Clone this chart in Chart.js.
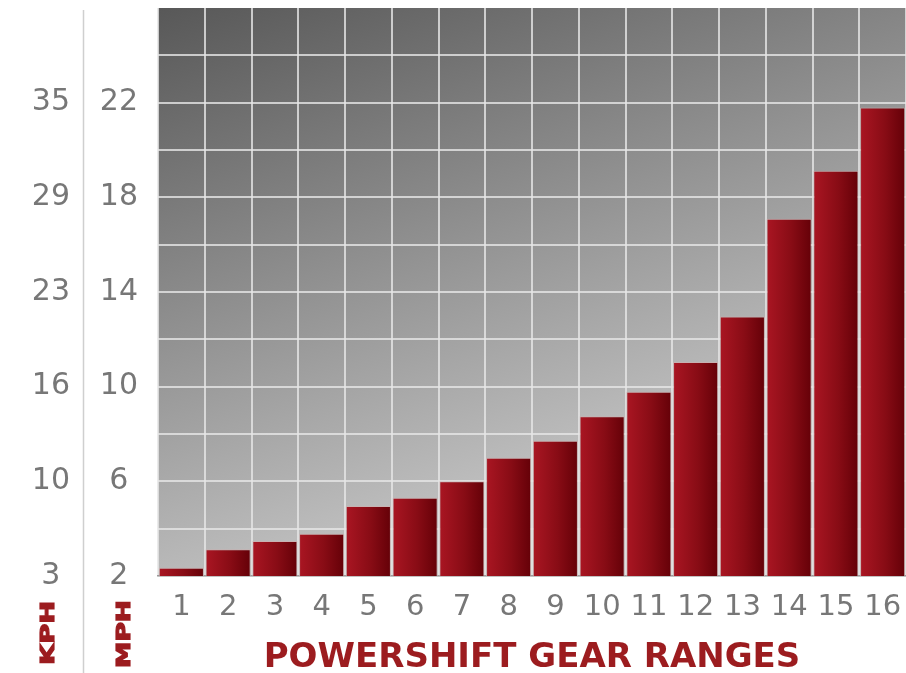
<!DOCTYPE html>
<html>
<head>
<meta charset="utf-8">
<script src="https://cdn.jsdelivr.net/npm/chart.js@4"></script>
<style>
  html, body { margin: 0; padding: 0; background: #fff; }
  #wrap { width: 906px; height: 673px; }
</style>
</head>
<body>
<div id="wrap"><canvas id="gearChart"></canvas></div>
<script>
// Gear numbers along the bottom
const gears = ['1', '2', '3', '4', '5', '6', '7', '8', '9', '10', '11', '12', '13', '14', '15', '16'];
// Top speed per gear (mph)
const mphValues = [2.35, 3.13, 3.48, 3.79, 4.96, 5.31, 6.0, 7.0, 7.72, 8.75, 9.79, 11.04, 12.96, 17.1, 19.12, 21.8];
// Labelled ticks: mph axis and the kph axis beside it
const mphTicks = [2, 6, 10, 14, 18, 22];
const kphTicks = [3, 10, 16, 23, 29, 35];
const axisMin = 2;
const axisMax = 26;
const gridStep = 2;

const RED = '#9c1c1f';
const TICK_GREY = '#777777';
const GRID = 'rgba(230,230,230,0.8)';

// label helper: show only the labelled ticks, keep grid lines on the rest
function tickLabel(list) {
  return function (value) {
    const i = mphTicks.indexOf(value);
    if (i >= 0) return String(list[i]);
    return value >= axisMax ? null : '';
  };
}

// fix an axis box size and drop the extra room Chart.js keeps for edge labels
function fixBox(size) {
  return function (scale) {
    if (scale.isHorizontal()) {
      scale.height = size;
      scale.paddingLeft = 0;
      scale.paddingRight = 0;
    } else {
      scale.width = size;
      scale.paddingTop = 0;
      scale.paddingBottom = 0;
    }
  };
}

// gray gradient behind the plot
const plotBackground = {
  id: 'plotBackground',
  beforeDraw(chart) {
    const { ctx, chartArea: a } = chart;
    const len = 620;
    const g = ctx.createLinearGradient(a.left, a.top, a.left + 0.33 * len, a.top + 0.94 * len);
    g.addColorStop(0, '#585858');
    g.addColorStop(1, '#c8c8c8');
    ctx.save();
    ctx.fillStyle = g;
    ctx.fillRect(a.left, a.top, a.right - a.left, a.bottom - a.top);
    ctx.restore();
  }
};

// divider line and the KPH / MPH unit labels under the axes
const unitLabels = {
  id: 'unitLabels',
  afterDraw(chart) {
    const ctx = chart.ctx;
    ctx.save();
    ctx.strokeStyle = '#cfcfcf';
    ctx.lineWidth = 1.5;
    ctx.beginPath();
    ctx.moveTo(83.5, 10);
    ctx.lineTo(83.5, 673);
    ctx.stroke();

    const drawUnit = (text, x, y, len) => {
      ctx.save();
      ctx.translate(x, y);
      ctx.rotate(-Math.PI / 2);
      ctx.font = 'bold 19px "DejaVu Sans"';
      const w = ctx.measureText(text).width;
      ctx.scale(len / w, 1);
      ctx.fillStyle = RED;
      ctx.strokeStyle = RED;
      ctx.lineWidth = 1.2;
      ctx.textAlign = 'center';
      ctx.textBaseline = 'middle';
      ctx.fillText(text, 0, 0);
      ctx.strokeText(text, 0, 0);
      ctx.restore();
    };
    drawUnit('KPH', 49, 633, 64);
    drawUnit('MPH', 125, 634, 68);
    ctx.restore();
  }
};

// each bar gets its own left-to-right red shading
function barGradient(context) {
  const chart = context.chart;
  const a = chart.chartArea;
  if (!a) return '#8a0c16';
  const xScale = chart.scales.x;
  const cx = xScale.getPixelForValue(context.dataIndex);
  const half = (a.right - a.left) / gears.length / 2;
  const g = chart.ctx.createLinearGradient(cx - half, 0, cx + half, 0);
  g.addColorStop(0, '#ab1623');
  g.addColorStop(0.55, '#880c15');
  g.addColorStop(1, '#630007');
  return g;
}

new Chart(document.getElementById('gearChart'), {
  type: 'bar',
  data: {
    labels: gears,
    datasets: [{
      data: mphValues,
      backgroundColor: barGradient,
      borderColor: 'rgba(205,175,175,0.75)',
      borderWidth: 1,
      categoryPercentage: 1,
      barPercentage: 0.965,
    }]
  },
  options: {
    responsive: true,
    maintainAspectRatio: false,
    animation: false,
    layout: { padding: { top: 8, right: 0, bottom: 0, left: 0 } },
    plugins: {
      legend: { display: false },
      tooltip: { enabled: false },
    },
    scales: {
      x: {
        // invisible tick marks push the labels down without padding the sides
        grid: { color: GRID, lineWidth: 2, drawTicks: true, tickLength: 14, tickColor: 'rgba(0,0,0,0)' },
        border: { display: true, color: '#9a9a9a', width: 1.5 },
        ticks: {
          color: TICK_GREY,
          font: { family: '"DejaVu Sans"', size: 29 },
          padding: 0,
        },
        title: {
          display: true,
          text: 'POWERSHIFT GEAR RANGES',
          color: RED,
          font: { family: '"DejaVu Sans"', weight: 'bold', size: 34, lineHeight: 0.88 },
          padding: { top: 0, bottom: 0 },
        },
        afterFit: fixBox(97),
      },
      y: {
        position: 'left',
        weight: 0,
        min: axisMin,
        max: axisMax,
        grid: { color: GRID, lineWidth: 2, drawTicks: true, tickLength: 20, tickColor: 'rgba(0,0,0,0)' },
        border: { display: false },
        ticks: {
          stepSize: gridStep,
          color: TICK_GREY,
          font: { family: '"DejaVu Sans"', size: 30 },
          crossAlign: 'center',
          padding: 0,
          callback: tickLabel(mphTicks),
        },
        afterFit: fixBox(74),
      },
      kph: {
        position: 'left',
        weight: 1,
        min: axisMin,
        max: axisMax,
        grid: { display: true, drawOnChartArea: false, drawTicks: true, tickLength: 14, tickColor: 'rgba(0,0,0,0)' },
        border: { display: false },
        ticks: {
          stepSize: gridStep,
          color: TICK_GREY,
          font: { family: '"DejaVu Sans"', size: 30 },
          crossAlign: 'center',
          padding: 0,
          callback: tickLabel(kphTicks),
        },
        afterFit: fixBox(84),
      },
    }
  },
  plugins: [plotBackground, unitLabels]
});
</script>
</body>
</html>
